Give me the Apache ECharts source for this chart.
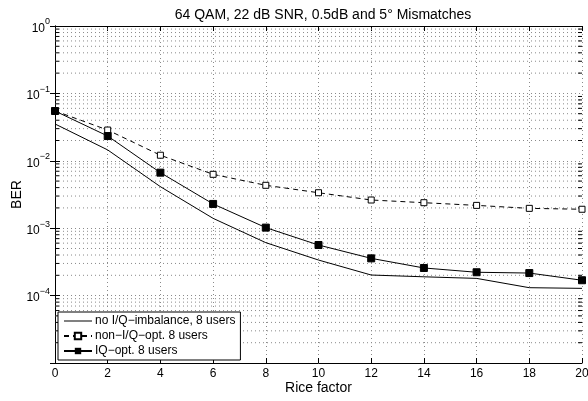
<!DOCTYPE html>
<html><head><meta charset="utf-8">
<script src="https://cdn.jsdelivr.net/npm/echarts@6/dist/echarts.min.js"></script>
<style>html,body{margin:0;padding:0;background:#fff}#c{width:588px;height:401px}</style>
</head><body><div id="c"></div>
<script>
const riceFactor = [0, 2, 4, 6, 8, 10, 12, 14, 16, 18, 20];
const noImbalance = [0.0352, 0.0145, 0.00413, 0.0014, 0.00061, 0.000337, 0.000202, 0.00019, 0.00018, 0.000131, 0.000128];
const nonIQopt = [0.055, 0.0286, 0.0121, 0.0063, 0.00433, 0.00336, 0.00262, 0.00239, 0.00218, 0.00197, 0.00191];
const iqOpt = [0.0548, 0.0233, 0.00667, 0.00229, 0.00102, 0.000563, 0.000357, 0.000257, 0.000222, 0.000216, 0.000169];
const seriesNames = ['no I/Q\u2212imbalance, 8 users', 'non\u2212I/Q\u2212opt. 8 users', 'IQ\u2212opt. 8 users'];
const titleText = '64 QAM, 22 dB SNR, 0.5dB and 5\u00b0 Mismatches';
const xLabel = 'Rice factor';
const yLabel = 'BER';
const xMin = 0, xMax = 20, xStep = 2;
const decades = [-5, -4, -3, -2, -1];

const FONT = "'Liberation Sans', Arial, Helvetica, sans-serif";
// minor log grid values (2..9 x 10^e)
const minorVals = [];
decades.forEach(e => { for (let m = 2; m <= 9; m++) minorVals.push(m * Math.pow(10, e)); });
const tickLen = (xMax - xMin) * 4 / 527;
const minorGridData = [], minorTickData = [];
minorVals.forEach(v => {
  minorGridData.push([xMin, v], [xMax, v], ['-', '-']);
  minorTickData.push([xMin, v], [xMin + tickLen, v], ['-', '-'], [xMax - tickLen, v], [xMax, v], ['-', '-']);
});

const chart = echarts.init(document.getElementById('c'), null, { renderer: 'canvas' });
const pair = arr => riceFactor.map((x, i) => [x, arr[i]]);
const gridLine = { show: true, lineStyle: { color: '#8a8a8a', type: [1, 3], width: 1 } };
chart.setOption({
  animation: false,
  backgroundColor: '#fff',
  textStyle: { fontFamily: FONT },
  title: { text: titleText, left: 318, top: 3, textAlign: 'center',
    textStyle: { fontFamily: FONT, fontSize: 14, fontWeight: 'normal', color: '#000' } },
  grid: { left: 55, right: 6, top: 26, bottom: 38, containLabel: false, outerBoundsMode: 'none' },
  legend: {
    orient: 'vertical', left: 58, top: 312, itemGap: 3, itemWidth: 28, itemHeight: 8,
    backgroundColor: '#fff', borderColor: '#000', borderWidth: 1, borderRadius: 0,
    padding: [3, 5, 3, 5],
    textStyle: { fontFamily: FONT, fontSize: 12, color: '#000', padding: [0, 0, 0, -2] },
    data: [
      { name: seriesNames[0], icon: 'path://M0,0H28V1H0Z', itemStyle: { color: '#000' } },
      { name: seriesNames[1] },
      { name: seriesNames[2] }
    ]
  },
  xAxis: [{
    type: 'value', min: xMin, max: xMax, interval: xStep,
    name: xLabel, nameLocation: 'middle', nameGap: 18, nameMoveOverlap: false,
    nameTextStyle: { fontFamily: FONT, fontSize: 14, color: '#000' },
    axisLine: { show: true, lineStyle: { color: '#000', width: 1 } },
    axisTick: { show: true, inside: true, length: 5, lineStyle: { color: '#000' } },
    axisLabel: { fontFamily: FONT, fontSize: 12, color: '#000', margin: 5 },
    splitLine: gridLine
  }, {
    type: 'value', position: 'top', min: xMin, max: xMax, interval: xStep,
    axisLine: { show: true, onZero: false, lineStyle: { color: '#000', width: 1 } },
    axisTick: { show: true, inside: true, length: 5, lineStyle: { color: '#000' } },
    axisLabel: { show: false }, splitLine: { show: false }
  }],
  yAxis: [{
    type: 'log', logBase: 10, min: 1e-5, max: 1,
    name: yLabel, nameLocation: 'middle', nameGap: 31, nameRotate: 90, nameMoveOverlap: false,
    nameTextStyle: { fontFamily: FONT, fontSize: 14, color: '#000' },
    axisLine: { show: true, lineStyle: { color: '#000', width: 1 } },
    axisTick: { show: true, inside: true, length: 5, lineStyle: { color: '#000' } },
    axisLabel: {
      margin: 5,
      formatter: v => { const e = Math.round(Math.log10(v)); return e === -5 ? '' : '{b|10}{s|' + (e === 0 ? '0' : '\u2212' + (-e)) + '}'; },
      rich: {
        b: { fontFamily: FONT, fontSize: 12, color: '#000', verticalAlign: 'bottom' },
        s: { fontFamily: FONT, fontSize: 9, color: '#000', verticalAlign: 'top', padding: [0, 0, 8, 0] }
      }
    },
    splitLine: gridLine
  }, {
    type: 'log', logBase: 10, min: 1e-5, max: 1, position: 'right',
    axisLine: { show: true, lineStyle: { color: '#000', width: 1 } },
    axisTick: { show: true, inside: true, length: 5, lineStyle: { color: '#000' } },
    axisLabel: { show: false }, splitLine: { show: false }
  }],
  series: [
    {
      name: 'minorGrid', type: 'line', data: minorGridData, symbol: 'none', silent: true,
      connectNulls: false, lineStyle: { color: '#8a8a8a', type: [1, 3], width: 1 }, z: 1
    },
    {
      name: 'minorTicks', type: 'line', data: minorTickData, symbol: 'none', silent: true,
      connectNulls: false, lineStyle: { color: '#000', width: 1 }, z: 2
    },
    {
      name: seriesNames[0], type: 'line', data: pair(noImbalance), symbol: 'none',
      lineStyle: { color: '#000', width: 1 }, itemStyle: { color: '#000' }, z: 3
    },
    {
      name: seriesNames[1], type: 'line', data: pair(nonIQopt), symbol: 'rect', symbolSize: 6,
      lineStyle: { color: '#000', width: 1, type: [5, 4] },
      itemStyle: { color: '#fff', borderColor: '#000', borderWidth: 1 }, z: 4
    },
    {
      name: seriesNames[2], type: 'line', data: pair(iqOpt), symbol: 'rect', symbolSize: 7,
      lineStyle: { color: '#000', width: 1 },
      itemStyle: { color: '#000', borderColor: '#000' }, z: 5
    }
  ]
});
</script></body></html>
